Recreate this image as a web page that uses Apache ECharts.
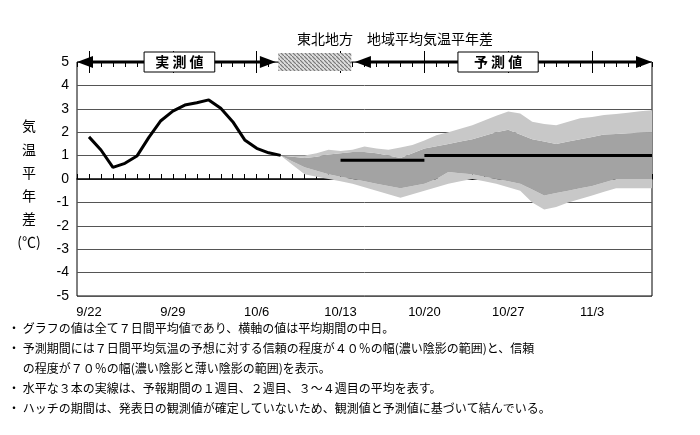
<!DOCTYPE html><html><head><meta charset="utf-8">
<script src="https://cdn.jsdelivr.net/npm/echarts@6/dist/echarts.min.js"></script>
<style>body{margin:0;background:#fff}#c{width:700px;height:435px}</style></head><body><div id="c"></div>
<script>
const dates=[];for(let m=9,d=21,i=0;i<49;i++){dates.push(m+'/'+d);d++;if(m===9&&d>30){m=10;d=1}else if(m===10&&d>31){m=11;d=1}}
const observed=[1.8,1.24,0.5,0.67,0.98,1.78,2.49,2.9,3.16,3.26,3.38,3.02,2.45,1.67,1.31,1.12,1.01];
const lightUpper=[1.0,1.0,1.0,1.1,1.25,1.2,1.25,1.39,1.3,1.25,1.35,1.45,1.65,1.87,2.0,2.15,2.3,2.5,2.7,2.88,2.8,2.45,2.35,2.3,2.45,2.6,2.65,2.73,2.78,2.83,2.9,2.94];
const darkUpper=[1.0,0.95,0.9,0.95,1.05,1.1,1.15,1.15,1.1,1.0,0.9,1.1,1.3,1.4,1.5,1.6,1.7,1.85,2.0,2.1,1.9,1.7,1.6,1.5,1.6,1.7,1.8,1.9,1.92,1.95,1.98,2.0];
const darkLower=[1.0,0.75,0.5,0.35,0.2,0.1,0.0,-0.1,-0.2,-0.3,-0.4,-0.3,-0.2,0.0,0.3,0.25,0.2,0.1,0.0,-0.1,-0.2,-0.45,-0.7,-0.6,-0.5,-0.4,-0.3,-0.15,0.0,0.0,0.0,0.0];
const lightLower=[1.0,0.6,0.2,0.1,0.0,-0.1,-0.2,-0.35,-0.5,-0.65,-0.8,-0.65,-0.5,-0.35,-0.2,-0.1,0.0,-0.1,-0.2,-0.35,-0.5,-1.0,-1.3,-1.2,-1.0,-0.85,-0.7,-0.55,-0.4,-0.4,-0.4,-0.4];
const week1=0.8, week234=1.0;
const yTicks=[-5,-4,-3,-2,-1,0,1,2,3,4,5];
const obsStart=1, fcStart=17, w1Start=22, w2Start=29;
const pad=(arr,start)=>dates.map((_,i)=>(i>=start&&i<start+arr.length)?arr[i-start]:null);
const obsData=pad(observed,obsStart);
const base=pad(lightLower,fcStart);
const l1=pad(darkLower.map((v,i)=>+(v-lightLower[i]).toFixed(3)),fcStart);
const d1=pad(darkUpper.map((v,i)=>+(v-darkLower[i]).toFixed(3)),fcStart);
const l2=pad(lightUpper.map((v,i)=>+(v-darkUpper[i]).toFixed(3)),fcStart);
const w1=dates.map((_,i)=>(i>=w1Start&&i<=w2Start)?week1:null);
const w2=dates.map((_,i)=>(i>=w2Start)?week234:null);
const chart=echarts.init(document.getElementById('c'));
const F='"Noto Sans CJK JP", sans-serif';
const ax=(o)=>Object.assign({type:'category',data:dates,boundaryGap:false,axisLabel:{show:false},splitLine:{show:false},axisLine:{show:false,onZero:true},axisTick:{show:false}},o);
const major=(i)=>i%7===1;
const area=(name,data,color)=>({type:'line',name,data,stack:'b',stackStrategy:'all',symbol:'none',lineStyle:{width:0},areaStyle:{color,opacity:1},itemStyle:{color},silent:true});
chart.setOption({animation:false,
 title:{text:'東北地方　地域平均気温平年差',left:390,top:27,textAlign:'center',textStyle:{fontFamily:F,fontSize:14,fontWeight:'normal',color:'#000'}},
 grid:{left:77,right:48,top:62,bottom:139,show:true,borderColor:'#000',borderWidth:1},
 xAxis:[
  ax({axisLine:{show:false,onZero:false},position:'bottom',axisLabel:{show:true,interval:(i)=>major(i),fontSize:13,color:'#000',fontFamily:'Liberation Sans',margin:10}}),
  ax({axisLine:{show:true,onZero:true,lineStyle:{color:'#000',width:1.5}},axisTick:{show:true,interval:0,length:5,lineStyle:{color:'#000'}}}),
  ax({axisTick:{show:true,interval:0,inside:true,length:5,lineStyle:{color:'#000'}}}),
  ax({axisTick:{show:true,interval:(i)=>major(i),length:11,lineStyle:{color:'#000'}}}),
  ax({axisTick:{show:true,interval:(i)=>major(i),inside:true,length:11,lineStyle:{color:'#000'}}})
 ],
 yAxis:{type:'value',min:-5,max:5,interval:1,axisLine:{show:false},axisTick:{show:false},
  axisLabel:{fontSize:14,color:'#000',fontFamily:'Liberation Sans',margin:8},splitLine:{lineStyle:{color:'#555',width:1}}},
 series:[
  area('base',base,'rgba(0,0,0,0)'),
  area('l1',l1,'#c8c8c8'),
  area('d1',d1,'#a3a3a3'),
  area('l2',l2,'#c8c8c8'),
  {type:'line',data:obsData,symbol:'none',lineStyle:{color:'#000',width:3},z:5},
  {type:'line',data:w1,symbol:'none',lineStyle:{color:'#000',width:3},z:5},
  {type:'line',data:w2,symbol:'none',lineStyle:{color:'#000',width:3},z:5}
 ]
});
const P=(i,v)=>{const a=chart.convertToPixel({xAxisIndex:0,yAxisIndex:0},[0,v]);const b=chart.convertToPixel({xAxisIndex:0,yAxisIndex:0},[1,v]);return [a[0]+(b[0]-a[0])*i,a[1]];};
const y5=P(0,5)[1];
const arrow=(i0,i1)=>{const a=P(i0,5)[0],b=P(i1,5)[0];return [
 {type:'line',shape:{x1:a+14,y1:y5,x2:b-14,y2:y5},style:{stroke:'#000',lineWidth:3},z:50},
 {type:'polygon',shape:{points:[[a,y5],[a+16,y5-6],[a+16,y5+6]]},style:{fill:'#000'},z:50},
 {type:'polygon',shape:{points:[[b,y5],[b-16,y5-6],[b-16,y5+6]]},style:{fill:'#000'},z:50}];};
const box=(i0,i1,t)=>{const a=P(i0,5)[0],b=P(i1,5)[0];return [
 {type:'rect',shape:{x:a,y:y5-10,width:b-a,height:20},style:{fill:'#fff',stroke:'#000',lineWidth:1},z:51},
 {type:'text',x:(a+b)/2,y:y5,style:{text:t,font:'bold 14px '+F,fill:'#000',align:'center',verticalAlign:'middle'},z:52}];};
const h0=P(16.8,5)[0],h1=P(22.9,5)[0];
const hc=document.createElement('canvas');hc.width=4;hc.height=4;{const g=hc.getContext('2d');g.fillStyle='#ddd';g.fillRect(0,0,4,4);g.strokeStyle='#777';g.lineWidth=1.2;g.beginPath();g.moveTo(0,0);g.lineTo(4,4);g.stroke();}
const titleChars=['気','温','平','年','差','(℃)'];
const els=[
 {type:'text',x:8,y:318,style:{text:'・ グラフの値は全て７日間平均値であり、横軸の値は平均期間の中日。\n・ 予測期間には７日間平均気温の予想に対する信頼の程度が４０％の幅(濃い陰影の範囲)と、信頼\n　 の程度が７０％の幅(濃い陰影と薄い陰影の範囲)を表示。\n・ 水平な３本の実線は、予報期間の１週目、２週目、３～４週目の平均を表す。\n・ ハッチの期間は、発表日の観測値が確定していないため、観測値と予測値に基づいて結んでいる。',font:'12px '+F,lineHeight:20,fill:'#000'}},
 ...titleChars.map((c,k)=>({type:'text',x:29,y:126+k*23.2,style:{text:c,font:'14px '+F,fill:'#000',align:'center',verticalAlign:'middle'}})),
 ...arrow(0,16.6),...arrow(23.2,48),...box(5.6,11.5,'実 測 値'),...box(31.8,38.5,'予 測 値'),
 {type:'rect',shape:{x:h0,y:y5-9,width:h1-h0,height:18},style:{fill:{image:hc,repeat:'repeat'}},z:50}
];
chart.setOption({graphic:{elements:els}});
</script></body></html>
